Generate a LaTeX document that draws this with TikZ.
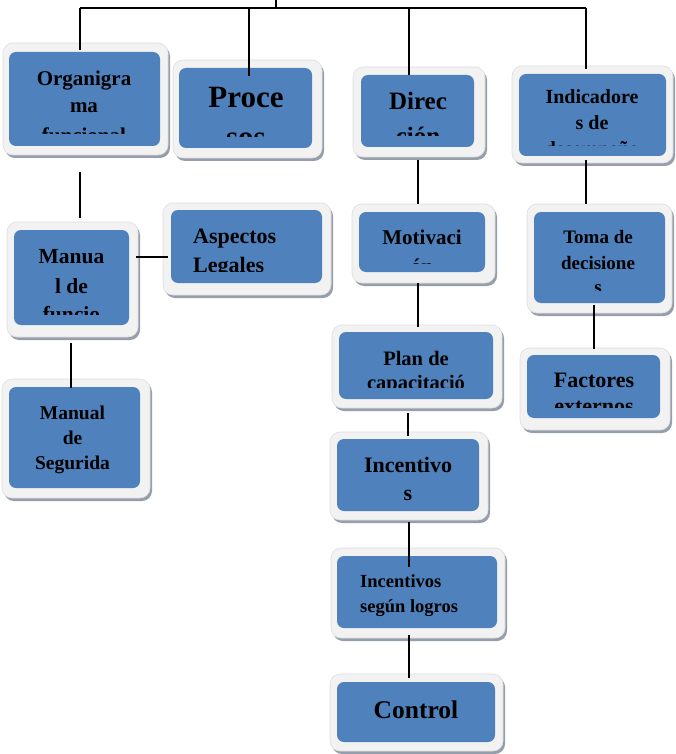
\documentclass[tikz,border=0pt]{standalone}
\usepackage{fontspec}
\setmainfont{Liberation Serif}
\usetikzlibrary{fit}
\definecolor{inb}{RGB}{79,129,189}
\definecolor{frm}{RGB}{242,242,242}
\definecolor{frmedge}{RGB}{222,222,222}
\definecolor{shd}{RGB}{150,158,172}
\newcommand\fs[1]{\fontsize{#1}{#1}\selectfont\bfseries}
\newcommand\mybox[9]{%
  \fill[shd,rounded corners=10pt] (#2+2,#3+3) rectangle (#4+2,#5+3);
  \filldraw[fill=frm,draw=frmedge,line width=0.6pt,rounded corners=10pt] (#2,#3) rectangle (#4,#5);
  \node[fill=inb,rounded corners=7pt,inner sep=0pt,fit={(#6,#7) (#8,#9)}] (#1) {};
}
\tikzset{
  tx/.style={anchor=base,inner sep=0pt,text=black},
  txl/.style={anchor=base west,inner sep=0pt,text=black},
  conn/.style={line width=1.9pt,black}
}
\begin{document}
\begin{tikzpicture}[x=1pt,y=-1pt]
\useasboundingbox (0,0) rectangle (676,754);
\fill[white] (0,0) rectangle (676,754);

% boxes
\mybox{org}{3}{43}{168}{155}{9}{52}{160}{146}
\mybox{proc}{173}{60}{322}{158}{179}{68}{312}{148}
\mybox{dir}{353}{67}{485}{157}{361}{75}{474}{147}
\mybox{ind}{512}{66}{673}{163}{519}{74}{666}{156}
\mybox{man}{7}{222}{138}{337}{14}{230}{129}{325}
\mybox{asp}{163}{203}{331}{295}{171}{210}{322}{283}
\mybox{seg}{2}{379}{150}{498}{9}{387}{140}{488}
\mybox{mot}{352}{204}{495}{283}{359}{212}{485}{272}
\mybox{plan}{332}{325}{502}{408}{339}{332}{493}{399}
\mybox{inc}{330}{432}{488}{520}{337}{439}{479}{511}
\mybox{incl}{331}{548}{505}{638}{337}{556}{497}{628}
\mybox{ctl}{330}{674}{503}{751}{337}{682}{495}{742}
\mybox{toma}{527}{204}{672}{313}{534}{212}{665}{303}
\mybox{fac}{520}{348}{670}{430}{527}{355}{660}{418}

% texts (clipped as in the reference)
\begin{scope}\clip (9,52) rectangle (160,133.5);
\node[tx,font=\fs{21}] (org1) at (84,86) {Organigra};
\node[tx,font=\fs{21}] (org2) at (84,113) {ma};
\node[tx,font=\fs{21}] (org3) at (84,143) {funcional};
\end{scope}
\begin{scope}\clip (179,68) rectangle (312,137);
\node[tx,font=\fs{31}] (proc1) at (246,108) {Proce};
\node[tx,font=\fs{31}] (proc2) at (246,148) {sos};
\end{scope}
\begin{scope}\clip (361,75) rectangle (474,136);
\node[tx,font=\fs{25}] (dir1) at (418,110) {Direc};
\node[tx,font=\fs{25}] (dir2) at (418,145) {ción};
\end{scope}
\begin{scope}\clip (519,74) rectangle (666,145.5);
\node[tx,font=\fs{20}] (ind1) at (592,104) {Indicadore};
\node[tx,font=\fs{20}] (ind2) at (592,130) {s de};
\node[tx,font=\fs{20}] (ind3) at (592,156) {desempeño};
\end{scope}
\begin{scope}\clip (14,230) rectangle (129,314);
\node[tx,font=\fs{21.5}] (man1) at (71.5,263) {Manua};
\node[tx,font=\fs{21.5}] (man2) at (71.5,293) {l de};
\node[tx,font=\fs{21.5}] (man3) at (71.5,321) {funcio};
\end{scope}
\begin{scope}\clip (171,210) rectangle (322,271);
\node[txl,font=\fs{22}] (asp1) at (193,243) {Aspectos};
\node[txl,font=\fs{22}] (asp2) at (193,272) {Legales};
\end{scope}
\node[tx,font=\fs{19.5}] (seg1) at (72.5,419) {Manual};
\node[tx,font=\fs{19.5}] (seg2) at (72.5,444) {de};
\node[tx,font=\fs{19.5}] (seg3) at (72.5,469) {Segurida};
\begin{scope}\clip (359,212) rectangle (485,263);
\node[tx,font=\fs{21}] (mot1) at (422,244) {Motivaci};
\node[tx,font=\fs{21}] (mot2) at (422,273) {ón};
\end{scope}
\begin{scope}\clip (339,332) rectangle (493,387);
\node[tx,font=\fs{20.5}] (plan1) at (416,365) {Plan de};
\node[tx,font=\fs{20.5}] (plan2) at (416,389) {capacitació};
\end{scope}
\node[tx,font=\fs{22}] (inc1) at (408,472) {Incentivo};
\node[tx,font=\fs{22}] (inc2) at (408,500) {s};
\node[txl,font=\fs{18.5}] (incl1) at (360,587) {Incentivos};
\node[txl,font=\fs{18.5}] (incl2) at (360,612) {según logros};
\node[tx,font=\fs{25.5}] (ctl1) at (416,718) {Control};
\begin{scope}\clip (534,212) rectangle (665,290);
\node[tx,font=\fs{19}] (toma1) at (598,243) {Toma de};
\node[tx,font=\fs{19}] (toma2) at (598,269) {decisione};
\node[tx,font=\fs{19}] (toma3) at (598,293) {s};
\end{scope}
\begin{scope}\clip (527,355) rectangle (660,407);
\node[tx,font=\fs{22}] (fac1) at (594,387) {Factores};
\node[tx,font=\fs{22}] (fac2) at (594,413) {externos};
\end{scope}

% connector end points
\coordinate (top) at (276,0);
\coordinate (busT) at (276,8);
\coordinate (busL) at (80,8);
\coordinate (busP) at (249,8);
\coordinate (busD) at (409,8);
\coordinate (busR) at (586,8);
\coordinate (orgIn) at (80,50);
\coordinate (procIn) at (249,76);
\coordinate (dirIn) at (409,75);
\coordinate (indIn) at (586,69);
\coordinate (dirOut) at (418,160);
\coordinate (motIn) at (418,204);
\coordinate (indOut) at (586,160);
\coordinate (tomaIn) at (586,204);
\coordinate (orgOut) at (80,172);
\coordinate (manIn) at (80,218);
\coordinate (manR) at (136,257);
\coordinate (aspL) at (168,257);
\coordinate (manOut) at (71,343);
\coordinate (segIn) at (71,388);
\coordinate (motOut) at (418,283);
\coordinate (planIn) at (418,327);
\coordinate (planOut) at (408,413);
\coordinate (incIn) at (408,436);
\coordinate (incOut) at (409,522);
\coordinate (inclIn) at (409,567);
\coordinate (inclOut) at (409,635);
\coordinate (ctlIn) at (409,678);
\coordinate (tomaOut) at (594,305);
\coordinate (facIn) at (594,349);

% connectors
\draw[conn] (top) -- (busT);
\draw[conn] (busL) -- (busR);
\draw[conn] (busL) -- (orgIn);
\draw[conn] (busP) -- (procIn);
\draw[conn] (busD) -- (dirIn);
\draw[conn] (busR) -- (indIn);
\draw[conn] (dirOut) -- (motIn);
\draw[conn] (indOut) -- (tomaIn);
\draw[conn] (orgOut) -- (manIn);
\draw[conn] (manR) -- (aspL);
\draw[conn] (manOut) -- (segIn);
\draw[conn] (motOut) -- (planIn);
\draw[conn] (planOut) -- (incIn);
\draw[conn] (incOut) -- (inclIn);
\draw[conn] (inclOut) -- (ctlIn);
\draw[conn] (tomaOut) -- (facIn);
\end{tikzpicture}
\end{document}
